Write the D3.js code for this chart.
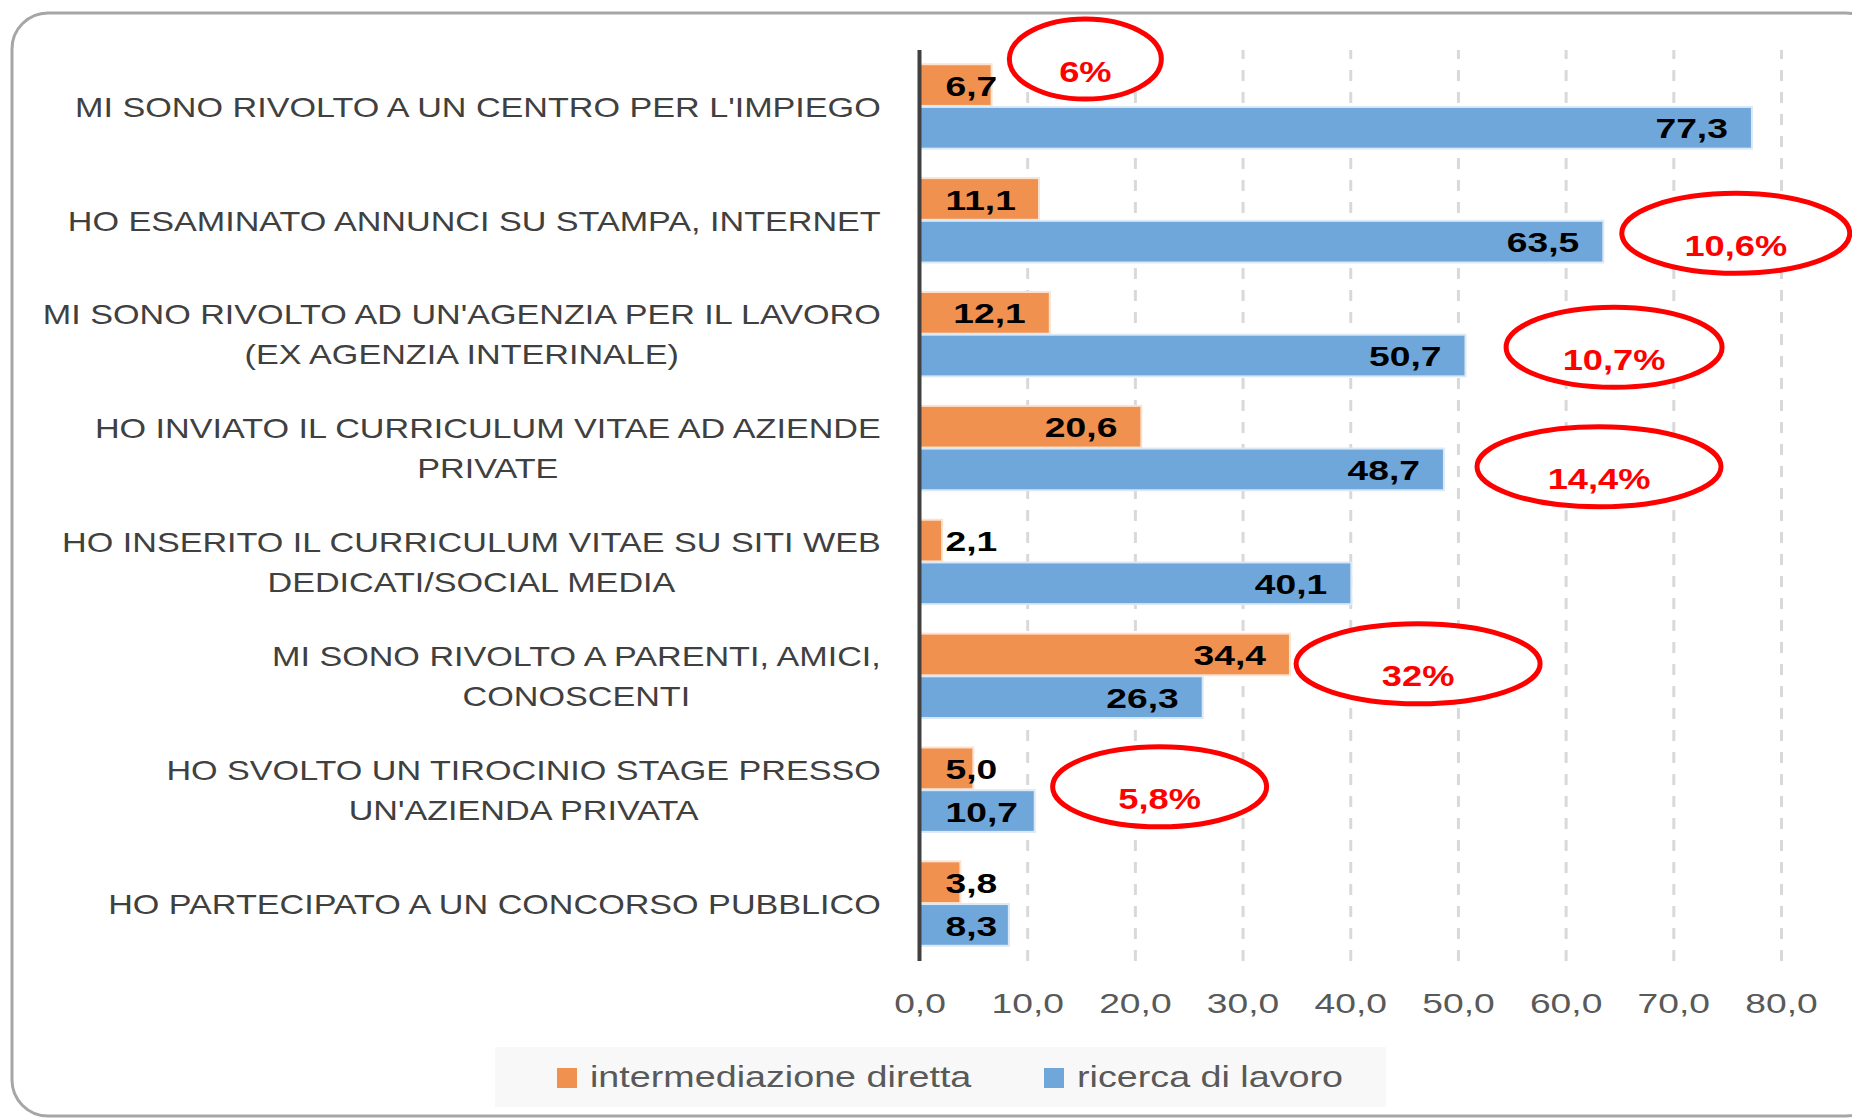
<!DOCTYPE html>
<html>
<head>
<meta charset="utf-8">
<script src="https://cdn.jsdelivr.net/npm/d3@7"></script>
<style>
  body { margin: 0; background: #fff; }
  svg { display: block; }
  text { font-family: "Liberation Sans", Arial, sans-serif; }
</style>
</head>
<body>
<div id="chart"></div>
<script>
// Data ======================================================
var categories = [
  "MI SONO RIVOLTO A UN CENTRO PER L'IMPIEGO",
  "HO ESAMINATO ANNUNCI SU STAMPA, INTERNET",
  "MI SONO RIVOLTO AD UN'AGENZIA PER IL LAVORO|(EX AGENZIA INTERINALE)",
  "HO INVIATO IL CURRICULUM VITAE AD AZIENDE|PRIVATE",
  "HO INSERITO IL CURRICULUM VITAE SU SITI WEB|DEDICATI/SOCIAL MEDIA",
  "MI SONO RIVOLTO A PARENTI, AMICI,|CONOSCENTI",
  "HO SVOLTO UN TIROCINIO STAGE PRESSO|UN'AZIENDA PRIVATA",
  "HO PARTECIPATO A UN CONCORSO PUBBLICO"
];
var seriesNames = ["intermediazione diretta", "ricerca di lavoro"];
var intermediazione = [6.7, 11.1, 12.1, 20.6, 2.1, 34.4, 5.0, 3.8];
var ricerca = [77.3, 63.5, 50.7, 48.7, 40.1, 26.3, 10.7, 8.3];
var tickValues = [0, 10, 20, 30, 40, 50, 60, 70, 80];

// red annotations: text, category row, value where the ring sits
var noteLabels = ["6%", "10,6%", "10,7%", "14,4%", "32%", "5,8%"];
var noteRows = [0, 1, 2, 3, 5, 6];
var noteValues = [15.4, 75.8, 64.5, 63.1, 46.3, 22.3];
// ===========================================================

var W = 1852, H = 1118;
var colors = ["#f0914f", "#70a7da"];
var outlines = ["#fbe3d2", "#dbe8f5"];
var SX = 1.33;   // the picture's text is stretched sideways

var svg = d3.select("#chart").append("svg")
  .attr("width", W).attr("height", H);

// card
svg.append("rect")
  .attr("x", 12).attr("y", 13)
  .attr("width", 1870).attr("height", 1103)
  .attr("rx", 36).attr("ry", 36)
  .attr("fill", "#fff")
  .attr("stroke", "#a6a6a6").attr("stroke-width", 3);

var plotTop = 50, plotBottom = 961;
var x = d3.scaleLinear().domain([0, 80]).range([919.5, 1781]);
var y = d3.scaleBand().domain(d3.range(categories.length))
  .range([plotTop, plotBottom]).paddingInner(0.25).paddingOuter(0.125);
var ySub = d3.scaleBand().domain([0, 1]).range([0, y.bandwidth()]);

var locale = d3.formatLocale({decimal: ",", thousands: ".", grouping: [3], currency: ["", "€"]});
var fmt = locale.format(".1f");

// grid =====================================================
var grid = svg.append("g")
  .attr("transform", "translate(0," + plotBottom + ")")
  .call(d3.axisBottom(x).tickValues(tickValues.slice(1))
    .tickSize(-(plotBottom - plotTop)).tickFormat(""));
grid.select(".domain").remove();
grid.selectAll("line")
  .attr("stroke", "#d9d9d9").attr("stroke-width", 3)
  .attr("stroke-dasharray", "11,11");

// tick labels
var axis = svg.append("g")
  .attr("transform", "translate(0," + plotBottom + ")")
  .call(d3.axisBottom(x).tickValues(tickValues).tickSize(0)
    .tickPadding(32).tickFormat(fmt));
axis.select(".domain").remove();
axis.selectAll("text")
  .attr("fill", "#595959")
  .style("font-size", "28px")
  .style("font-family", "'Liberation Sans', Arial, sans-serif")
  .attr("transform", "scale(" + SX + ",1)");

// bars =====================================================
var series = [intermediazione, ricerca];
var rows = categories.map(function(c, i) { return i; });

series.forEach(function(vals, s) {
  var g = svg.append("g");
  g.selectAll("rect")
    .data(rows).enter().append("rect")
    .attr("x", x(0))
    .attr("y", function(i) { return y(i) + ySub(s); })
    .attr("width", function(i) { return x(vals[i]) - x(0); })
    .attr("height", ySub.bandwidth() - 1)
    .attr("fill", colors[s])
    .attr("stroke", outlines[s]).attr("stroke-width", 2);

  g.selectAll("text")
    .data(rows).enter().append("text")
    .text(function(i) { return fmt(vals[i]); })
    .attr("text-anchor", "end")
    .attr("dy", "0.36em")
    .style("font-size", "28px")
    .style("font-weight", "bold")
    .attr("fill", "#000")
    .attr("transform", function(i) {
      var w = this.getComputedTextLength() * SX;
      var xe = Math.max(x(vals[i]) - 24, x(0) + 26 + w);
      var yc = y(i) + ySub(s) + ySub.bandwidth() / 2;
      return "translate(" + xe + "," + yc + ") scale(" + SX + ",1)";
    });
});

// axis line
svg.append("line")
  .attr("x1", x(0)).attr("x2", x(0))
  .attr("y1", plotTop).attr("y2", plotBottom)
  .attr("stroke", "#404040").attr("stroke-width", 4);

// category labels ==========================================
var labelRight = 881, CSX = 1.265;
var catG = svg.append("g");
categories.forEach(function(c, i) {
  var lines = c.split("|");
  var yc = y(i) + y.bandwidth() / 2;
  var texts = lines.map(function(l, k) {
    return catG.append("text").text(l)
      .attr("text-anchor", "middle")
      .attr("dy", "0.36em")
      .style("font-size", "27px")
      .attr("fill", "#404040");
  });
  var maxW = d3.max(texts, function(t) { return t.node().getComputedTextLength() * CSX; });
  var cx = labelRight - maxW / 2;
  texts.forEach(function(t, k) {
    var ly = yc + (k - (lines.length - 1) / 2) * 40;
    t.attr("transform", "translate(" + cx + "," + ly + ") scale(" + CSX + ",1)");
  });
});

// red rings ================================================
var noteShift = [-0.42, 0.11, 0.11, 0.16, -0.11, -0.03];
var noteRx = [76, 114, 108, 122, 122, 107];
noteLabels.forEach(function(t, k) {
  var cx = x(noteValues[k]);
  var cy = y(noteRows[k]) + y.bandwidth() / 2 + noteShift[k] * y.step();
  svg.append("ellipse")
    .attr("cx", cx).attr("cy", cy)
    .attr("rx", noteRx[k]).attr("ry", 40)
    .attr("fill", "#fff")
    .attr("stroke", "#ff0000").attr("stroke-width", 5);
  svg.append("text").text(t)
    .attr("text-anchor", "middle")
    .attr("dy", "0.36em")
    .style("font-size", "29px")
    .style("font-weight", "bold")
    .attr("fill", "#ff0000")
    .attr("transform", "translate(" + cx + "," + (cy + 12) + ") scale(1.25,1)");
});

// legend ===================================================
var leg = svg.append("g");
leg.append("rect")
  .attr("x", 495).attr("y", 1047)
  .attr("width", 891).attr("height", 60)
  .attr("fill", "#f8f8f8");
var legX = [557, 1044];
seriesNames.forEach(function(n, s) {
  leg.append("rect")
    .attr("x", legX[s]).attr("y", 1068)
    .attr("width", 20).attr("height", 20)
    .attr("fill", colors[s]);
  leg.append("text").text(n)
    .attr("dy", "0.36em")
    .style("font-size", "29px")
    .attr("fill", "#595959")
    .attr("transform", "translate(" + (legX[s] + 33) + ",1077) scale(1.3,1)");
});
</script>
</body>
</html>
